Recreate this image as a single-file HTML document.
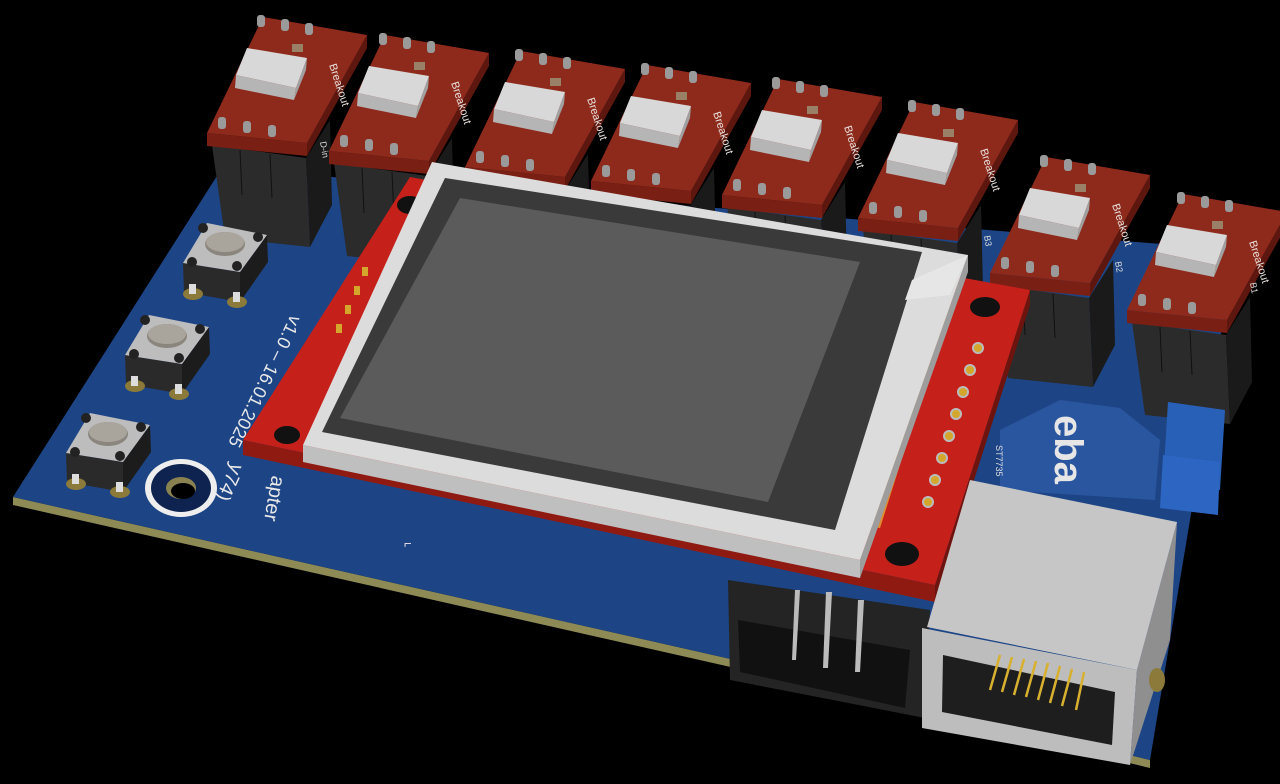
<!DOCTYPE html>
<html><head><meta charset="utf-8"><style>
html,body{margin:0;padding:0;background:#000;width:1280px;height:784px;overflow:hidden}
svg{display:block}
text{font-family:"Liberation Sans",sans-serif}
</style></head><body>
<svg width="1280" height="784" viewBox="0 0 1280 784" xmlns="http://www.w3.org/2000/svg">
<defs>
<g id="mod">
  <polygon points="212,145 306,158 310,247 225,238" fill="#2b2b2b"/>
  <polygon points="306,158 330,120 332,205 310,247" fill="#1a1a1a"/>
  <line x1="240" y1="150" x2="242" y2="195" stroke="#111"/><line x1="270" y1="154" x2="272" y2="198" stroke="#111"/>
  <polygon points="207,133 307,143 307,156 207,146" fill="#7a1f14"/>
  <polygon points="307,143 367,35 367,48 307,156" fill="#5e170f"/>
  <polygon points="207,133 263,17 367,35 307,143" fill="#8e2a1c"/>
  <polygon points="236,75 247,48 307,58 296,88" fill="#d8d8d8"/>
  <polygon points="236,75 296,88 294,100 235,88" fill="#b5b5b5"/>
  <polygon points="296,88 307,58 306,70 294,100" fill="#a0a0a0"/>
  <rect x="292" y="44" width="11" height="8" fill="#9a8066"/>
  <g fill="#9a9a9a">
    <rect x="257" y="15" width="8" height="12" rx="3"/><rect x="281" y="19" width="8" height="12" rx="3"/><rect x="305" y="23" width="8" height="12" rx="3"/>
    <rect x="218" y="117" width="8" height="12" rx="3"/><rect x="243" y="121" width="8" height="12" rx="3"/><rect x="268" y="125" width="8" height="12" rx="3"/>
  </g>
  <text x="0" y="0" font-size="11" fill="#e8e0dc" transform="translate(329,65) rotate(72)">Breakout</text>
</g>
<g id="btn">
  <polygon points="183,263 240,272 240,302 184,292" fill="#2a2a2a"/>
  <polygon points="240,272 267,235 268,262 240,302" fill="#1c1c1c"/>
  <polygon points="183,263 207,223 267,235 240,272" fill="#bdbdbd"/>
  <ellipse cx="225" cy="244" rx="20" ry="12" fill="#8a867e"/>
  <ellipse cx="225" cy="242" rx="19" ry="10" fill="#a9a59c"/>
  <circle cx="203" cy="228" r="5" fill="#222"/><circle cx="258" cy="237" r="5" fill="#222"/>
  <circle cx="192" cy="262" r="5" fill="#222"/><circle cx="237" cy="266" r="5" fill="#222"/>
  <ellipse cx="193" cy="294" rx="10" ry="6" fill="#8c7a3a"/><ellipse cx="237" cy="302" rx="10" ry="6" fill="#8c7a3a"/>
  <rect x="189" y="284" width="7" height="10" fill="#ddd"/><rect x="233" y="292" width="7" height="10" fill="#ddd"/>
</g>
</defs>

<polygon points="13,497 735,660 1150,760 1150,768 735,668 13,505" fill="#8d8a55"/>
<polygon points="222,168 1235,250 1150,760 735,660 13,497" fill="#1d4586"/>

<use href="#mod"/>
<use href="#mod" transform="translate(122,18)"/>
<use href="#mod" transform="translate(258,34)"/>
<use href="#mod" transform="translate(384,48)"/>
<use href="#mod" transform="translate(515,62)"/>
<use href="#mod" transform="translate(651,85)"/>
<use href="#mod" transform="translate(783,140)"/>
<use href="#mod" transform="translate(920,177)"/>

<text font-size="9" fill="#ddd" transform="translate(320,142) rotate(80)">D-in</text>
<text font-size="9" fill="#ddd" transform="translate(984,236) rotate(80)">B3</text>
<text font-size="9" fill="#ddd" transform="translate(1115,262) rotate(80)">B2</text>
<text font-size="9" fill="#ddd" transform="translate(1250,283) rotate(80)">B1</text>

<use href="#btn"/>
<use href="#btn" transform="translate(-58,92)"/>
<use href="#btn" transform="translate(-117,190)"/>

<ellipse cx="181" cy="488" rx="36" ry="29" fill="#eee"/>
<ellipse cx="181" cy="488" rx="30" ry="24" fill="#0e2350"/>
<ellipse cx="181" cy="488" rx="15" ry="11" fill="#8a8150"/>
<ellipse cx="183" cy="491" rx="12" ry="8" fill="#000"/>

<text font-size="18" fill="#e8e8e8" transform="translate(291,314) rotate(116)">v1.0 – 16.01.2025</text>
<text font-size="20" fill="#e8e8e8" transform="translate(272,475) rotate(100)">apter</text>
<text font-size="20" fill="#e8e8e8" transform="translate(232,462) rotate(115)">y74)</text>

<polygon points="1000,430 1060,400 1120,408 1160,440 1155,500 1000,490" fill="#2a56a0"/>
<text x="1010" y="470" font-size="40" fill="#e6e6e6" font-weight="bold" transform="rotate(90 1060 465)">eba</text>
<text font-size="9" fill="#ddd" transform="translate(996,445) rotate(90)">ST7735</text>

<polygon points="1168,402 1225,410 1220,490 1163,482" fill="#2860b8"/>
<polygon points="1163,455 1220,462 1218,515 1160,508" fill="#2d65c2"/>

<polygon points="728,580 930,610 925,718 730,680" fill="#242424"/>
<polygon points="738,620 910,650 905,708 740,672" fill="#111"/>
<g fill="#bbb">
<polygon points="795,590 800,590 796,660 792,660"/><polygon points="826,592 832,592 828,668 823,668"/><polygon points="858,600 864,600 860,672 855,672"/>
</g>

<polygon points="243,440 935,585 935,602 243,455" fill="#8f1a12"/>
<polygon points="935,585 1030,290 1030,305 935,602" fill="#6e140e"/>
<polygon points="243,440 410,177 1030,290 935,585" fill="#c5201a"/>
<ellipse cx="410" cy="205" rx="13" ry="9" fill="#111"/>
<ellipse cx="287" cy="435" rx="13" ry="9" fill="#111"/>
<ellipse cx="985" cy="307" rx="15" ry="10" fill="#111"/>
<ellipse cx="902" cy="554" rx="17" ry="12" fill="#111"/>
<g fill="#d4a72c">
<rect x="362" y="267" width="6" height="9"/><rect x="354" y="286" width="6" height="9"/><rect x="345" y="305" width="6" height="9"/><rect x="336" y="324" width="6" height="9"/>
</g>
<g fill="#d4a72c" stroke="#bbb" stroke-width="2">
<circle cx="978" cy="348" r="5"/><circle cx="970" cy="370" r="5"/><circle cx="963" cy="392" r="5"/><circle cx="956" cy="414" r="5"/><circle cx="949" cy="436" r="5"/><circle cx="942" cy="458" r="5"/><circle cx="935" cy="480" r="5"/><circle cx="928" cy="502" r="5"/>
</g>
<polygon points="840,520 912,296 955,290 880,528" fill="#cf7a22"/>
<polygon points="858,524 930,296 955,290 880,528" fill="#e08c30"/>
<polygon points="303,445 860,560 860,578 303,462" fill="#bfbfbf"/>
<polygon points="860,560 968,255 968,272 860,578" fill="#9d9d9d"/>
<polygon points="303,445 432,162 968,255 860,560" fill="#dcdcdc"/>
<polygon points="322,432 445,178 922,252 835,530" fill="#3a3a3a"/>
<polygon points="340,418 460,198 860,262 768,502" fill="#5b5b5b"/>
<polygon points="912,280 968,255 950,295 905,300" fill="#e6e6e6"/>
<text font-size="13" fill="#eee" x="404" y="548">⌐</text>

<polygon points="922,628 1137,670 1130,765 922,728" fill="#bdbdbd"/>
<polygon points="1137,670 1177,522 1170,640 1130,765" fill="#8f8f8f"/>
<polygon points="927,627 970,480 1177,522 1137,670" fill="#c6c6c6"/>
<polygon points="943,655 1115,692 1112,745 942,712" fill="#1e1e1e"/>
<g stroke="#d8b030" stroke-width="2.5">
<line x1="1000" y1="655" x2="990" y2="690"/><line x1="1012" y1="657" x2="1002" y2="692"/><line x1="1024" y1="659" x2="1014" y2="695"/><line x1="1036" y1="661" x2="1026" y2="697"/><line x1="1048" y1="663" x2="1038" y2="700"/><line x1="1060" y1="666" x2="1050" y2="703"/><line x1="1072" y1="669" x2="1062" y2="706"/><line x1="1084" y1="672" x2="1076" y2="710"/>
</g>
<ellipse cx="1157" cy="680" rx="8" ry="12" fill="#8c7a3a"/>
</svg>
</body></html>
